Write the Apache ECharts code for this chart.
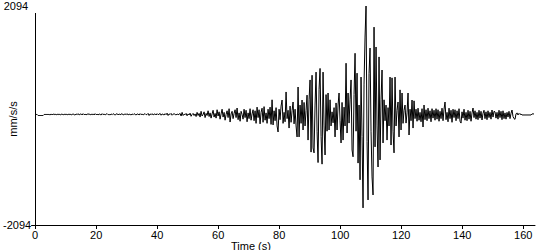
<!DOCTYPE html>
<html>
<head>
<meta charset="utf-8">
<script src="https://cdn.jsdelivr.net/npm/echarts@6/dist/echarts.min.js"></script>
<style>
html,body{margin:0;padding:0;background:#fff;}
#chart{width:550px;height:250px;}
</style>
</head>
<body>
<div id="chart"></div>
<script>
// sampling interval of the record (s)
const sampleInterval = 0.32768;
const timeMin = 0;
const timeMax = 163.84;
const timeTickStep = 20;
const yMin = -2094;
const yMax = 2094;
const yLabelValues = [-2094, 2094];
const xLabel = 'Time (s)';
const yLabel = 'mm/s/s';

// acceleration samples (mm/s/s)
const accel = [
20,20,20,0,0,0,0,0,0,20,20,20,20,20,20,10,30,10,30,15,
30,10,25,15,30,10,20,30,10,25,15,30,10,25,15,30,10,20,30,15,
10,30,15,35,10,25,30,10,35,15,25,10,30,20,35,10,25,15,30,10,
35,15,25,10,30,20,10,35,15,30,10,25,35,15,20,10,30,15,35,20,
10,25,35,10,30,15,25,35,10,20,30,15,35,10,25,20,10,30,15,35,
20,10,30,25,10,35,15,30,10,25,35,15,20,40,0,30,15,35,10,25,
30,10,35,15,25,40,5,30,20,10,35,15,45,0,30,20,40,5,25,35,
20,10,30,15,25,40,-10,60,0,25,15,40,-5,30,10,45,-15,20,40,0,
30,-20,60,0,40,-30,80,-10,20,70,-40,40,0,90,-20,50,-50,30,100,-30,
40,-50,110,-10,70,-70,30,120,-30,60,-90,20,90,-40,130,-125,30,80,-60,40,
110,-40,143,-80,50,-110,80,20,-70,120,-40,100,-120,50,-60,130,-90,30,110,-100,
90,-150,160,-40,110,-160,60,140,-130,170,-90,50,-150,120,-60,160,-170,300,-180,90,
-100,150,-200,-315,120,-80,180,296,-150,60,-120,450,-60,100,-240,180,-130,90,258,-160,
120,-200,-410,545,-410,200,-150,296,-277,250,-200,100,390,-470,300,680,-700,770,-620,-715,
200,830,-300,-900,500,900,-400,-930,830,-200,-755,400,-300,430,-277,300,-200,70,-140,150,
-410,240,-277,200,430,-100,-525,250,-470,160,-200,1000,-335,430,-145,300,680,-660,-790,400,
1190,-300,810,-910,200,-1230,735,-400,-1767,600,1500,2094,-500,-1615,800,1290,-300,-1175,-1520,1690,
-600,1310,-200,-985,1120,-850,300,870,-525,300,-100,200,-470,150,-200,735,-565,720,-300,-715,
735,-200,100,258,-410,490,-277,430,-150,100,200,-145,50,430,-373,120,-100,296,-240,280,
-60,120,-110,140,-90,60,-120,130,-220,200,-80,110,-100,140,-60,90,-120,130,-50,100,
-90,130,-70,110,-110,80,-60,140,-100,120,258,-80,60,-120,140,-60,100,-130,120,-40,
110,-100,90,-60,130,-110,-145,70,-50,120,-90,60,-100,100,-70,80,-110,50,143,-40,
90,-70,60,-80,100,-50,80,-86,40,100,-60,70,-80,90,-40,60,-70,105,-30,80,
70,-50,60,-70,100,-40,80,-80,90,-60,50,-70,60,-30,80,-60,40,105,-20,-60,
-73,30,50,10,40,20,30,10,10,10,10,10,10,10,10,10,10,30,30,30
];

const seriesData = accel.map((v, i) => [i * sampleInterval, v]);
const FONT = '"Liberation Sans", Arial, sans-serif';

const chart = echarts.init(document.getElementById('chart'), null, {renderer: 'svg', width: 550, height: 250});
chart.setOption({
  animation: false,
  backgroundColor: '#ffffff',
  grid: {left: 35, right: 15, top: 6, bottom: 25, containLabel: false},
  title: {
    text: xLabel, left: 231, top: 240, padding: 0,
    textStyle: {fontSize: 11, fontWeight: 'normal', color: '#000', fontFamily: FONT}
  },
  xAxis: {
    type: 'value', min: timeMin, max: timeMax, interval: timeTickStep,
    axisLine: {show: true, onZero: false, lineStyle: {color: '#000', width: 1}},
    axisTick: {show: true, length: 4, lineStyle: {color: '#000'}},
    axisLabel: {fontSize: 11, color: '#000', margin: 4, fontFamily: FONT, showMaxLabel: false},
    splitLine: {show: false}
  },
  yAxis: {
    type: 'value', min: yMin, max: yMax, interval: yMax,
    axisLine: {show: false},
    axisTick: {show: true, customValues: [yMin], length: 4, lineStyle: {color: '#000'}},
    axisLabel: {
      customValues: yLabelValues, fontSize: 11, color: '#000', margin: 4, fontFamily: FONT,
      formatter: v => (v > 0 ? '{p|' + v + '}' : String(v)),
      rich: {p: {fontSize: 11, color: '#000', fontFamily: FONT, padding: [0, 3, 0, 0]}}
    },
    splitLine: {show: false}
  },
  graphic: [
    {type: 'line', shape: {x1: 35.5, y1: 13, x2: 35.5, y2: 225}, style: {stroke: '#000', lineWidth: 1}, silent: true},
    {type: 'text', x: 13, y: 119, rotation: Math.PI / 2,
     style: {text: yLabel, fontSize: 11, fill: '#000', font: '11px ' + FONT, align: 'center', verticalAlign: 'middle'}}
  ],
  series: [{
    type: 'line', data: seriesData, showSymbol: false, symbol: 'none',
    lineStyle: {color: '#000', width: 1}, sampling: null, silent: true
  }]
});
</script>
</body>
</html>
